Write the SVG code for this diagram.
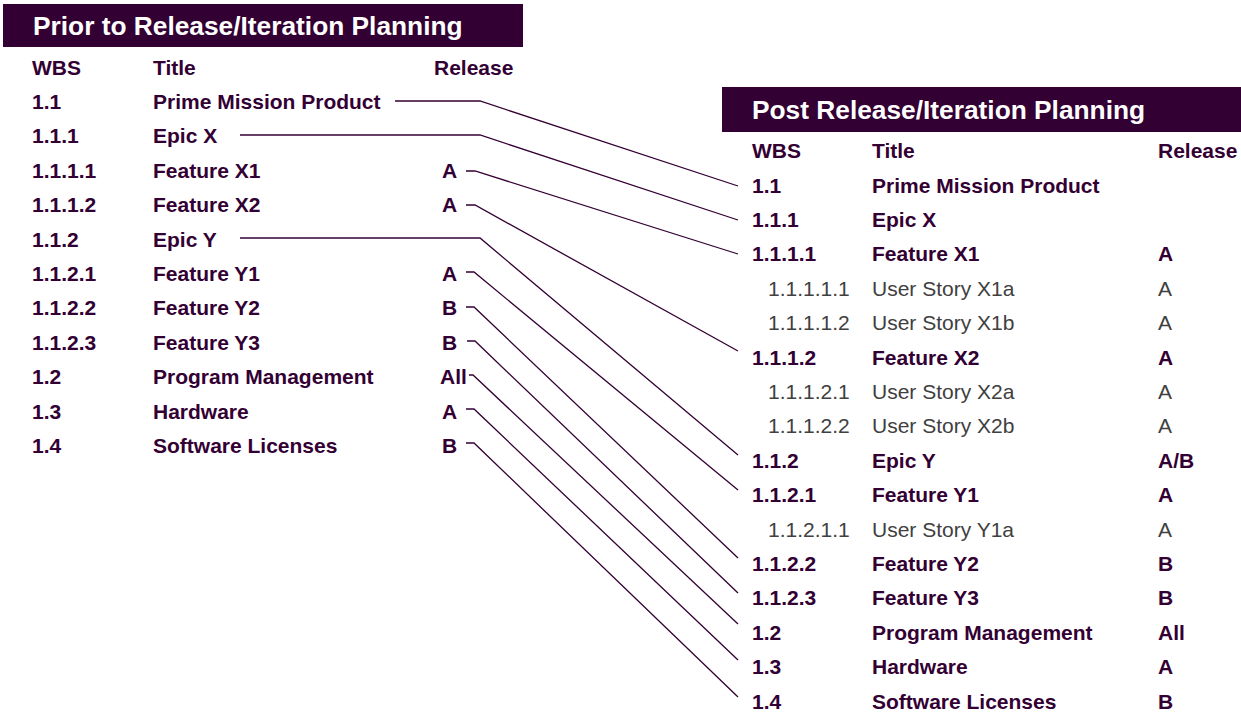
<svg xmlns="http://www.w3.org/2000/svg" width="1241" height="712" viewBox="0 0 1241 712">
<style>
text{font-family:"Liberation Sans",Arial,sans-serif;}
.hd{font-size:26.3px;font-weight:bold;fill:#ffffff;}
.b{font-size:21px;font-weight:bold;fill:#330033;}
.g{font-size:21px;fill:#404040;}
.bar{fill:#330033;}
.c{fill:none;stroke:#330033;stroke-width:1.3;}
</style>
<rect width="1241" height="712" fill="#ffffff"/>
<g id="left-table">
<g id="left-header"><rect class="bar" x="3" y="4" width="520" height="43"/><text class="hd" x="33" y="35">Prior to Release/Iteration Planning</text></g>
<g id="left-cols"><text class="b" x="32" y="75">WBS</text><text class="b" x="153" y="75">Title</text><text class="b" x="434" y="75">Release</text></g>
<g id="L1.1"><text class="b" x="32" y="109">1.1</text><text class="b" x="153" y="109">Prime Mission Product</text></g>
<g id="L1.1.1"><text class="b" x="32" y="143.4">1.1.1</text><text class="b" x="153" y="143.4">Epic X</text></g>
<g id="L1.1.1.1"><text class="b" x="32" y="177.8">1.1.1.1</text><text class="b" x="153" y="177.8">Feature X1</text><text class="b" x="442" y="177.8">A</text></g>
<g id="L1.1.1.2"><text class="b" x="32" y="212.2">1.1.1.2</text><text class="b" x="153" y="212.2">Feature X2</text><text class="b" x="442" y="212.2">A</text></g>
<g id="L1.1.2"><text class="b" x="32" y="246.6">1.1.2</text><text class="b" x="153" y="246.6">Epic Y</text></g>
<g id="L1.1.2.1"><text class="b" x="32" y="281">1.1.2.1</text><text class="b" x="153" y="281">Feature Y1</text><text class="b" x="442" y="281">A</text></g>
<g id="L1.1.2.2"><text class="b" x="32" y="315.4">1.1.2.2</text><text class="b" x="153" y="315.4">Feature Y2</text><text class="b" x="442" y="315.4">B</text></g>
<g id="L1.1.2.3"><text class="b" x="32" y="349.8">1.1.2.3</text><text class="b" x="153" y="349.8">Feature Y3</text><text class="b" x="442" y="349.8">B</text></g>
<g id="L1.2"><text class="b" x="32" y="384.2">1.2</text><text class="b" x="153" y="384.2">Program Management</text><text class="b" x="440" y="384.2">All</text></g>
<g id="L1.3"><text class="b" x="32" y="418.6">1.3</text><text class="b" x="153" y="418.6">Hardware</text><text class="b" x="442" y="418.6">A</text></g>
<g id="L1.4"><text class="b" x="32" y="453">1.4</text><text class="b" x="153" y="453">Software Licenses</text><text class="b" x="442" y="453">B</text></g>
</g>
<g id="right-table">
<g id="right-header"><rect class="bar" x="722" y="87" width="519" height="45"/><text class="hd" x="752" y="119">Post Release/Iteration Planning</text></g>
<g id="right-cols"><text class="b" x="752" y="158">WBS</text><text class="b" x="872" y="158">Title</text><text class="b" x="1158" y="158">Release</text></g>
<g id="R1.1"><text class="b" x="752" y="192.5">1.1</text><text class="b" x="872" y="192.5">Prime Mission Product</text></g>
<g id="R1.1.1"><text class="b" x="752" y="226.9">1.1.1</text><text class="b" x="872" y="226.9">Epic X</text></g>
<g id="R1.1.1.1"><text class="b" x="752" y="261.3">1.1.1.1</text><text class="b" x="872" y="261.3">Feature X1</text><text class="b" x="1158" y="261.3">A</text></g>
<g id="R1.1.1.1.1"><text class="g" x="768" y="295.7">1.1.1.1.1</text><text class="g" x="872" y="295.7">User Story X1a</text><text class="g" x="1158" y="295.7">A</text></g>
<g id="R1.1.1.1.2"><text class="g" x="768" y="330.1">1.1.1.1.2</text><text class="g" x="872" y="330.1">User Story X1b</text><text class="g" x="1158" y="330.1">A</text></g>
<g id="R1.1.1.2"><text class="b" x="752" y="364.5">1.1.1.2</text><text class="b" x="872" y="364.5">Feature X2</text><text class="b" x="1158" y="364.5">A</text></g>
<g id="R1.1.1.2.1"><text class="g" x="768" y="398.9">1.1.1.2.1</text><text class="g" x="872" y="398.9">User Story X2a</text><text class="g" x="1158" y="398.9">A</text></g>
<g id="R1.1.1.2.2"><text class="g" x="768" y="433.3">1.1.1.2.2</text><text class="g" x="872" y="433.3">User Story X2b</text><text class="g" x="1158" y="433.3">A</text></g>
<g id="R1.1.2"><text class="b" x="752" y="467.7">1.1.2</text><text class="b" x="872" y="467.7">Epic Y</text><text class="b" x="1158" y="467.7">A/B</text></g>
<g id="R1.1.2.1"><text class="b" x="752" y="502.1">1.1.2.1</text><text class="b" x="872" y="502.1">Feature Y1</text><text class="b" x="1158" y="502.1">A</text></g>
<g id="R1.1.2.1.1"><text class="g" x="768" y="536.5">1.1.2.1.1</text><text class="g" x="872" y="536.5">User Story Y1a</text><text class="g" x="1158" y="536.5">A</text></g>
<g id="R1.1.2.2"><text class="b" x="752" y="570.9">1.1.2.2</text><text class="b" x="872" y="570.9">Feature Y2</text><text class="b" x="1158" y="570.9">B</text></g>
<g id="R1.1.2.3"><text class="b" x="752" y="605.3">1.1.2.3</text><text class="b" x="872" y="605.3">Feature Y3</text><text class="b" x="1158" y="605.3">B</text></g>
<g id="R1.2"><text class="b" x="752" y="639.7">1.2</text><text class="b" x="872" y="639.7">Program Management</text><text class="b" x="1158" y="639.7">All</text></g>
<g id="R1.3"><text class="b" x="752" y="674.1">1.3</text><text class="b" x="872" y="674.1">Hardware</text><text class="b" x="1158" y="674.1">A</text></g>
<g id="R1.4"><text class="b" x="752" y="708.5">1.4</text><text class="b" x="872" y="708.5">Software Licenses</text><text class="b" x="1158" y="708.5">B</text></g>
</g>
<g id="connectors">
<polyline class="c" points="395,101 480,101 738,186"/>
<polyline class="c" points="240,135 480,135 738,220"/>
<polyline class="c" points="466,171 475,171 738,254"/>
<polyline class="c" points="466,205 475,205 738,351"/>
<polyline class="c" points="240,238 480,238 738,455"/>
<polyline class="c" points="466,272 474,272 738,490"/>
<polyline class="c" points="466,307 474,307 738,558"/>
<polyline class="c" points="467,341 475,341 738,593"/>
<polyline class="c" points="469,375 473,375 738,624"/>
<polyline class="c" points="466,409 474,409 738,660"/>
<polyline class="c" points="466,443 474,443 738,697"/>
</g>
</svg>
